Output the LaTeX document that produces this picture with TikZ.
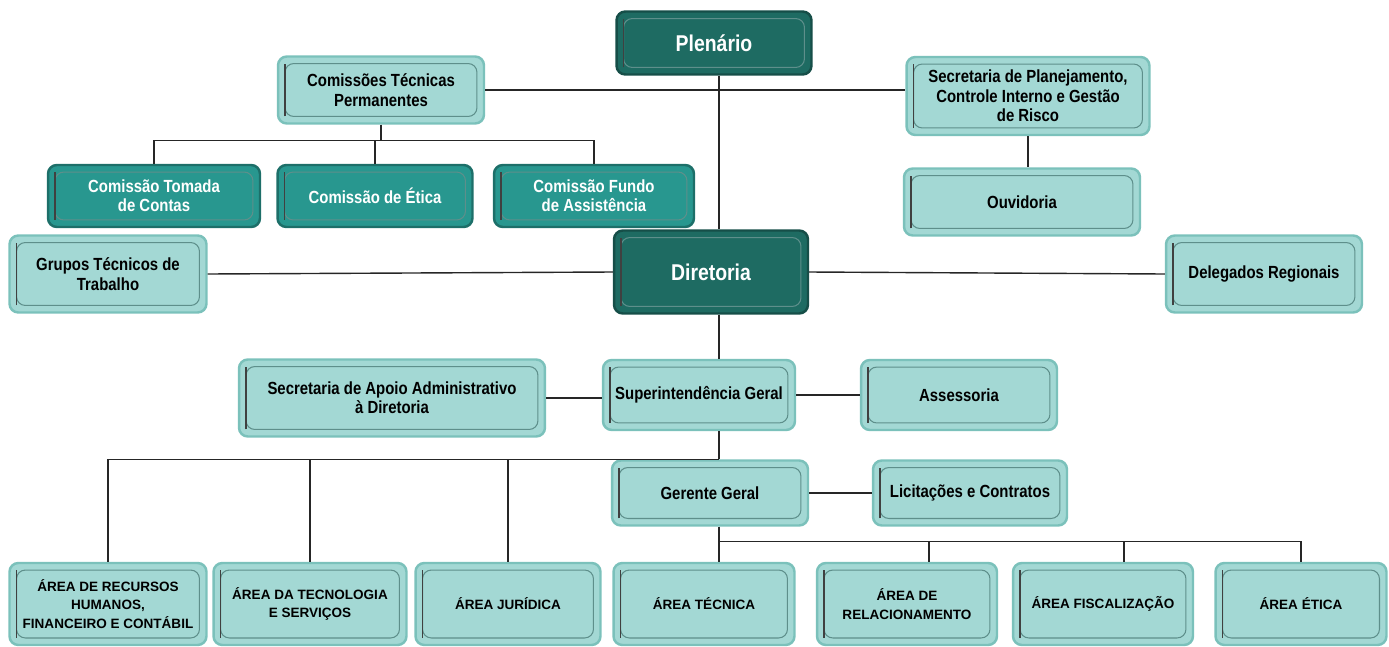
\documentclass[tikz,border=0pt]{standalone}
\usepackage{fontspec}
\setmainfont{Liberation Sans}[FakeStretch=0.85]
\newfontfamily\areafont{Liberation Sans}
\usepackage{xcolor}
\usetikzlibrary{positioning, calc}

\definecolor{plenfill}{HTML}{1E6B62}
\definecolor{plenline}{HTML}{164E48}
\definecolor{comfill}{HTML}{28978F}
\definecolor{comline}{HTML}{1D6F69}
\definecolor{areafill}{HTML}{A3D8D4}
\definecolor{arealine}{HTML}{7BC1BB}
\definecolor{framecol}{HTML}{5E8F8B}

\tikzset{
  caixa/.style={rectangle, rounded corners=5pt, line width=1.4pt, align=center,
    inner sep=2pt, font=\bfseries\fontsize{10}{11}\selectfont,
    path picture={
      \draw[framecol, line width=0.6pt]
        ([shift={(4pt,4pt)}]path picture bounding box.south west) rectangle
        ([shift={(-4pt,-4pt)}]path picture bounding box.north east);
      \draw[black!75, line width=0.9pt]
        ([shift={(4pt,4pt)}]path picture bounding box.south west) --
        ([shift={(4pt,-4pt)}]path picture bounding box.north west);
    }},
  escura/.style={caixa, fill=plenfill, draw=plenline, text=white,
    font=\bfseries\fontsize{13}{15}\selectfont},
  media/.style={caixa, fill=comfill, draw=comline, text=white},
  clara/.style={caixa, fill=areafill, draw=arealine, text=black},
  area/.style={clara, minimum height=1.64cm,
    font=\areafont\bfseries\fontsize{7.7}{10.5}\selectfont},
  linha/.style={thick, black!85}
}

\begin{document}
\begin{tikzpicture}[x=0.02cm, y=-0.02cm]
\useasboundingbox (0,0) rectangle (1389,646);

% Nodos principais
\node[escura, minimum width=3.9cm, minimum height=1.26cm] (plen) at (714,43) {Plenário};
\node[clara, minimum width=4.12cm, minimum height=1.34cm] (ctp) at (381,90) {Comissões Técnicas\\Permanentes};
\node[clara, minimum width=4.86cm, minimum height=1.56cm] (spc) at (1028,96) {Secretaria de Planejamento,\\Controle Interno e Gestão\\de Risco};
\node[media, minimum width=4.24cm, minimum height=1.24cm] (cmt) at (154,196) {Comissão Tomada\\de Contas};
\node[media, minimum width=3.9cm, minimum height=1.24cm] (cet) at (375,196) {Comissão de Ética};
\node[media, minimum width=4cm, minimum height=1.24cm] (cfa) at (594,196) {Comissão Fundo\\de Assistência};
\node[clara, minimum width=4.72cm, minimum height=1.34cm] (ouv) at (1022,202) {Ouvidoria};
\node[clara, minimum width=3.94cm, minimum height=1.54cm] (gtt) at (108,274) {Grupos Técnicos de\\Trabalho};
\node[escura, minimum width=3.88cm, minimum height=1.66cm] (dir) at (711,272) {Diretoria};
\node[clara, minimum width=3.92cm, minimum height=1.54cm] (dlg) at (1264,274) {Delegados Regionais};
\node[clara, minimum width=6.12cm, minimum height=1.54cm] (saa) at (392,398) {Secretaria de Apoio Administrativo\\à Diretoria};
\node[clara, minimum width=3.84cm, minimum height=1.4cm] (sup) at (699,395) {Superintendência Geral};
\node[clara, minimum width=3.92cm, minimum height=1.4cm] (ass) at (959,395) {Assessoria};
\node[clara, minimum width=3.92cm, minimum height=1.3cm] (ger) at (710,493) {Gerente Geral};
\node[clara, minimum width=3.88cm, minimum height=1.3cm] (lic) at (970,493) {Licitações e Contratos};

% Areas
\node[area, minimum width=3.94cm] (arh) at (108,604) {ÁREA DE RECURSOS\\HUMANOS,\\FINANCEIRO E CONTÁBIL};
\node[area, minimum width=3.86cm] (ate) at (310,604) {ÁREA DA TECNOLOGIA\\E SERVIÇOS};
\node[area, minimum width=3.7cm] (aju) at (508,604) {ÁREA JURÍDICA};
\node[area, minimum width=3.62cm] (atc) at (704,604) {ÁREA TÉCNICA};
\node[area, minimum width=3.6cm] (are) at (907,604) {ÁREA DE\\RELACIONAMENTO};
\node[area, minimum width=3.6cm] (afi) at (1103,604) {ÁREA FISCALIZAÇÃO};
\node[area, minimum width=3.42cm] (aet) at (1301,604) {ÁREA ÉTICA};

% Ligacoes
\coordinate (eixo) at (719,0);
\draw[linha] (plen.south -| eixo) -- (dir.north -| eixo);
\draw[linha] (ctp.east) -- (ctp.east -| spc.west);
\draw[linha] (ctp.south) -- ++(0,16) coordinate (ctpbus);
\draw[linha] (cmt.north) |- (ctpbus) -| (cfa.north);
\draw[linha] (cet.north) -- (cet.north |- ctpbus);
\draw[linha] (spc.south) -- (spc.south |- ouv.north);
\draw[linha] (gtt.east) -- (dir.west);
\draw[linha] (dir.east) -- (dlg.west);
\draw[linha] (dir.south -| eixo) -- (sup.north -| eixo);
\draw[linha] (saa.east) -- (saa.east -| sup.west);
\draw[linha] (sup.east) -- (ass.west);
\draw[linha] (sup.south -| eixo) -- (ger.north -| eixo);
\draw[linha] (ger.north -| eixo) -| (arh.north);
\draw[linha] (ate.north) -- (ate.north |- ger.north);
\draw[linha] (aju.north) -- (aju.north |- ger.north);
\draw[linha] (ger.east) -- (lic.west);
\draw[linha] (ger.south -| eixo) -- ++(0,15) coordinate (gerbus);
\draw[linha] (gerbus) -- (atc.north -| eixo);
\draw[linha] (gerbus) -| (aet.north);
\draw[linha] ($(are.north)+(22,0)$) -- ($(are.north |- gerbus)+(22,0)$);
\draw[linha] ($(afi.north)+(21,0)$) -- ($(afi.north |- gerbus)+(21,0)$);
\end{tikzpicture}
\end{document}
